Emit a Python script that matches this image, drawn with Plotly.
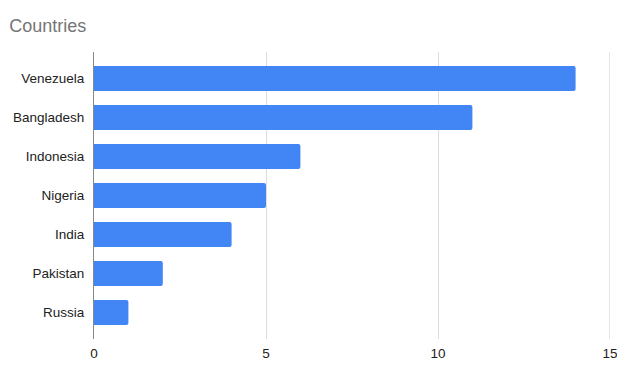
import plotly.graph_objects as go

countries = ["Venezuela", "Bangladesh", "Indonesia", "Nigeria", "India", "Pakistan", "Russia"]
values = [14, 11, 6, 5, 4, 2, 1]
x_ticks = [0, 5, 10, 15]

FONT = "Liberation Sans, Arial, sans-serif"
GRID = "#dddddd"

fig = go.Figure(go.Bar(
    x=values, y=countries, orientation="h",
    marker=dict(color="#4285F4", cornerradius=2, line=dict(width=0)),
    width=0.64,
))

# page body has an 8px default margin on every side; size figure to fit the 625x378 window
fig.update_layout(
    width=609, height=362,
    margin=dict(l=86, r=7, t=44, b=31, autoexpand=False),
    paper_bgcolor="white", plot_bgcolor="white",
    title=dict(text="Countries", x=0.002, xanchor="left", y=0.95, yanchor="middle",
               font=dict(family=FONT, size=18, color="#757575")),
    font=dict(family=FONT, size=13.5, color="#222222"),
    showlegend=False,
)
x_max = x_ticks[-1]
fig.update_xaxes(range=[0, x_max], tickvals=x_ticks, showgrid=True, gridcolor=GRID,
                 gridwidth=1, zeroline=False, showline=False, ticks="",
                 ticklabelstandoff=4, automargin=False, ticklabeloverflow="allow",
                 tickfont=dict(family=FONT, size=13.5, color="#222222"))
fig.update_yaxes(autorange=False, range=[6.68, -0.68], categoryorder="array",
                 categoryarray=countries, showgrid=False, zeroline=False,
                 showline=True, linecolor="#888888", linewidth=1, ticks="",
                 ticklabelstandoff=6, automargin=False, ticklabeloverflow="allow",
                 tickfont=dict(family=FONT, size=13.5, color="#222222"))
# gridline at the right edge (plotly omits grid lines lying exactly on the plot edge)
fig.add_vline(x=x_max, line=dict(color=GRID, width=1.5), layer="below")

fig.write_html("out.html")
